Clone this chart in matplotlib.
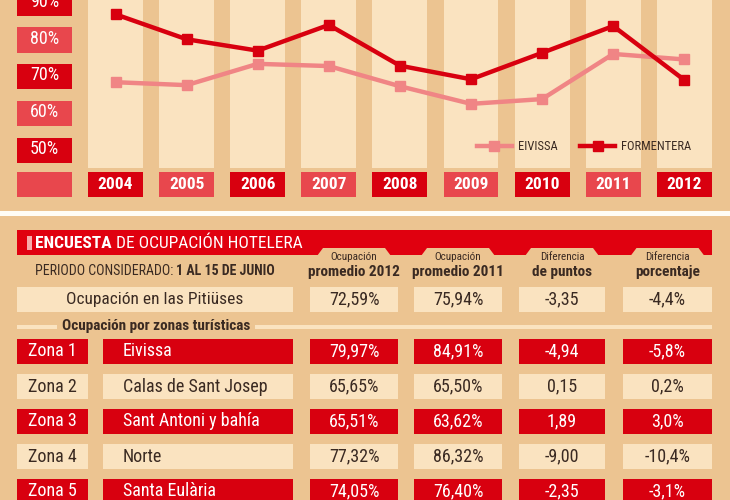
import matplotlib
matplotlib.use('Agg')
import matplotlib.pyplot as plt
from matplotlib import font_manager
from matplotlib.patches import Rectangle, Polygon

# Fuente estrecha si hay alguna instalada
disponibles = {f.name for f in font_manager.fontManager.ttflist}
FUENTE = next((f for f in ['Liberation Sans Narrow', 'DejaVu Sans Condensed', 'Roboto Condensed']
               if f in disponibles), 'DejaVu Sans')
plt.rcParams['font.family'] = [FUENTE, 'DejaVu Sans']
plt.rcParams['font.stretch'] = 'condensed'

# Datos del gráfico de líneas
anios = [2004, 2005, 2006, 2007, 2008, 2009, 2010, 2011, 2012]
eivissa = [68.5, 67.7, 73.5, 72.9, 67.4, 62.6, 63.9, 76.2, 74.7]
formentera = [87.0, 80.2, 77.1, 84.1, 73.0, 69.3, 76.5, 83.8, 69.1]
marcas_y = [50, 60, 70, 80, 90]

# Datos de la tabla
titulos_col = [('Ocupación', 'promedio 2012'), ('Ocupación', 'promedio 2011'),
               ('Diferencia', 'de puntos'), ('Diferencia', 'porcentaje')]
total_nombre = 'Ocupación en las Pitiüses'
total_valores = [72.59, 75.94, -3.35, -4.4]
zonas = ['Zona 1', 'Zona 2', 'Zona 3', 'Zona 4', 'Zona 5']
nombres = ['Eivissa', 'Calas de Sant Josep', 'Sant Antoni y bahía', 'Norte', 'Santa Eulària']
ocup_2012 = [79.97, 65.65, 65.51, 77.32, 74.05]
ocup_2011 = [84.91, 65.50, 63.62, 86.32, 76.40]
dif_puntos = [-4.94, 0.15, 1.89, -9.00, -2.35]
dif_porcentaje = [-5.8, 0.2, 3.0, -10.4, -3.1]

# Colores
TOSTADO = '#ECC491'
CREMA = '#FAE3C0'
ROJO = '#D8000F'
ROJO_CLARO = '#E8474D'
SALMON = '#F08585'
TEXTO = '#3A2A22'


def coma(v, dec, pct=True):
    s = f"{v:.{dec}f}".replace('.', ',')
    return s + '%' if pct else s


fig = plt.figure(figsize=(7.3, 5.0), dpi=100, facecolor=TOSTADO)

# Fondo en píxeles para la tabla
bg = fig.add_axes([0, 0, 1, 1])
bg.set_xlim(0, 730)
bg.set_ylim(500, 0)
bg.set_axis_off()
bg.add_patch(Rectangle((0, 211), 730, 5, color='#FFFDF6', lw=0))

# ---------- gráfico de líneas ----------
ALTO = 211
X0, DX = 115.5, 71.1
Y80, PX = 40.0, 3.67


def yv(py):
    return 80 - (py - Y80) / PX


ax = fig.add_axes([0, 1 - ALTO / 500, 1, ALTO / 500])
ax.set_xlim(2004 - X0 / DX, 2004 + (730 - X0) / DX)
ax.set_ylim(yv(ALTO), yv(0))
ax.set_axis_off()

ancho = 55 / DX
ax.bar(anios, yv(0) - yv(168), bottom=yv(168), width=ancho, color=CREMA, zorder=1)
colores_anio = [ROJO if i % 2 == 0 else ROJO_CLARO for i in range(len(anios))]
ax.bar(anios, yv(172) - yv(197), bottom=yv(197), width=ancho, color=colores_anio, zorder=2)
for a in anios:
    ax.text(a, yv(184.5), str(a), color='white', fontsize=12.5, fontweight='bold',
            ha='center', va='center', zorder=3)

x_eje = anios[0] - 1
alto_caja = 25 / PX
for i, m in enumerate(marcas_y):
    ax.bar(x_eje, alto_caja, bottom=m - alto_caja / 2, width=ancho,
           color=ROJO if i % 2 == 0 else ROJO_CLARO, zorder=2)
    ax.text(x_eje, m + 0.4, f'{m}%', color='white', fontsize=13, ha='center', va='center',
            zorder=3)
ax.bar(x_eje, yv(172) - yv(197), bottom=yv(197), width=ancho, color=ROJO_CLARO, zorder=2)

ax.plot(anios, eivissa, color=SALMON, lw=3.2, marker='s', ms=7, label='EIVISSA', zorder=4)
ax.plot(anios, formentera, color=ROJO, lw=3.2, marker='s', ms=7, label='FORMENTERA', zorder=5)
leg = ax.legend(loc='center', bbox_to_anchor=(584 / 730, 1 - 147 / ALTO), ncol=2, frameon=False,
                fontsize=9, handlelength=2.8, columnspacing=1.8, handletextpad=0.5)
for t in leg.get_texts():
    t.set_color(TEXTO)

# ---------- tabla ----------
COLS = [(17, 88), (103, 293), (310, 398), (414, 502), (519, 605), (623, 712)]
ALTO_FILA = 25

# barra de título con pestañas
bg.add_patch(Rectangle((17, 230), 695, 25, color='#E0000F', lw=0))
for x1, x2 in COLS[2:]:
    c = (x1 + x2) / 2
    bg.add_patch(Polygon([(c - 37, 256), (c - 31, 248), (c + 31, 248), (c + 37, 256)],
                         closed=True, color=TOSTADO, lw=0))
bg.add_patch(Rectangle((27, 236), 5, 14, color='#F7A9A9', lw=0))
t1 = bg.text(35, 243, 'ENCUESTA', color='white', fontsize=12.5, fontweight='bold', va='center')
bg.annotate(' DE OCUPACIÓN HOTELERA', xy=(1, 0.5), xycoords=t1, color='white', fontsize=12.5,
            va='center')

t2 = bg.text(35, 271, 'PERIODO CONSIDERADO: ', color=TEXTO, fontsize=10, va='center')
bg.annotate('1 AL 15 DE JUNIO', xy=(1, 0.5), xycoords=t2, color=TEXTO, fontsize=10,
            fontweight='bold', va='center')

for (x1, x2), (arriba, abajo) in zip(COLS[2:], titulos_col):
    c = (x1 + x2) / 2
    bg.text(c, 257, arriba, color=TEXTO, fontsize=8, ha='center', va='center')
    bg.text(c, 272, abajo, color=TEXTO, fontsize=11, fontweight='bold', ha='center', va='center')

# fila total
y = 287
bg.add_patch(Rectangle((COLS[0][0], y), COLS[1][1] - COLS[0][0], ALTO_FILA, color=CREMA, lw=0))
bg.text((COLS[0][0] + COLS[1][1]) / 2, y + ALTO_FILA / 2, total_nombre, color=TEXTO,
        fontsize=12.5, ha='center', va='center')
textos_total = [coma(total_valores[0], 2), coma(total_valores[1], 2),
                coma(total_valores[2], 2, False), coma(total_valores[3], 1)]
for (x1, x2), s in zip(COLS[2:], textos_total):
    bg.add_patch(Rectangle((x1, y), x2 - x1, ALTO_FILA, color=CREMA, lw=0))
    bg.text((x1 + x2) / 2, y + ALTO_FILA / 2, s, color=TEXTO, fontsize=13,
            ha='center', va='center')

# separador de zonas
bg.add_patch(Rectangle((17, 325), 695, 4, color=CREMA, lw=0))
bg.text(156, 326, 'Ocupación por zonas turísticas', color=TEXTO, fontsize=11, fontweight='bold',
        ha='center', va='center',
        bbox=dict(boxstyle='square,pad=0.3', fc=TOSTADO, ec='none'))

# filas por zona
for i in range(len(zonas)):
    y = 339 + i * 35
    fondo = ROJO if i % 2 == 0 else CREMA
    letra = 'white' if i % 2 == 0 else TEXTO
    celdas = [zonas[i], nombres[i], coma(ocup_2012[i], 2), coma(ocup_2011[i], 2),
              coma(dif_puntos[i], 2, False), coma(dif_porcentaje[i], 1)]
    for j, ((x1, x2), s) in enumerate(zip(COLS, celdas)):
        bg.add_patch(Rectangle((x1, y), x2 - x1, ALTO_FILA, color=fondo, lw=0))
        if j == 1:
            bg.text(x1 + 20, y + ALTO_FILA / 2, s, color=letra, fontsize=13,
                    ha='left', va='center')
        else:
            bg.text((x1 + x2) / 2, y + ALTO_FILA / 2, s, color=letra, fontsize=13,
                    ha='center', va='center')

fig.savefig('out.png', dpi=100, facecolor=TOSTADO)
